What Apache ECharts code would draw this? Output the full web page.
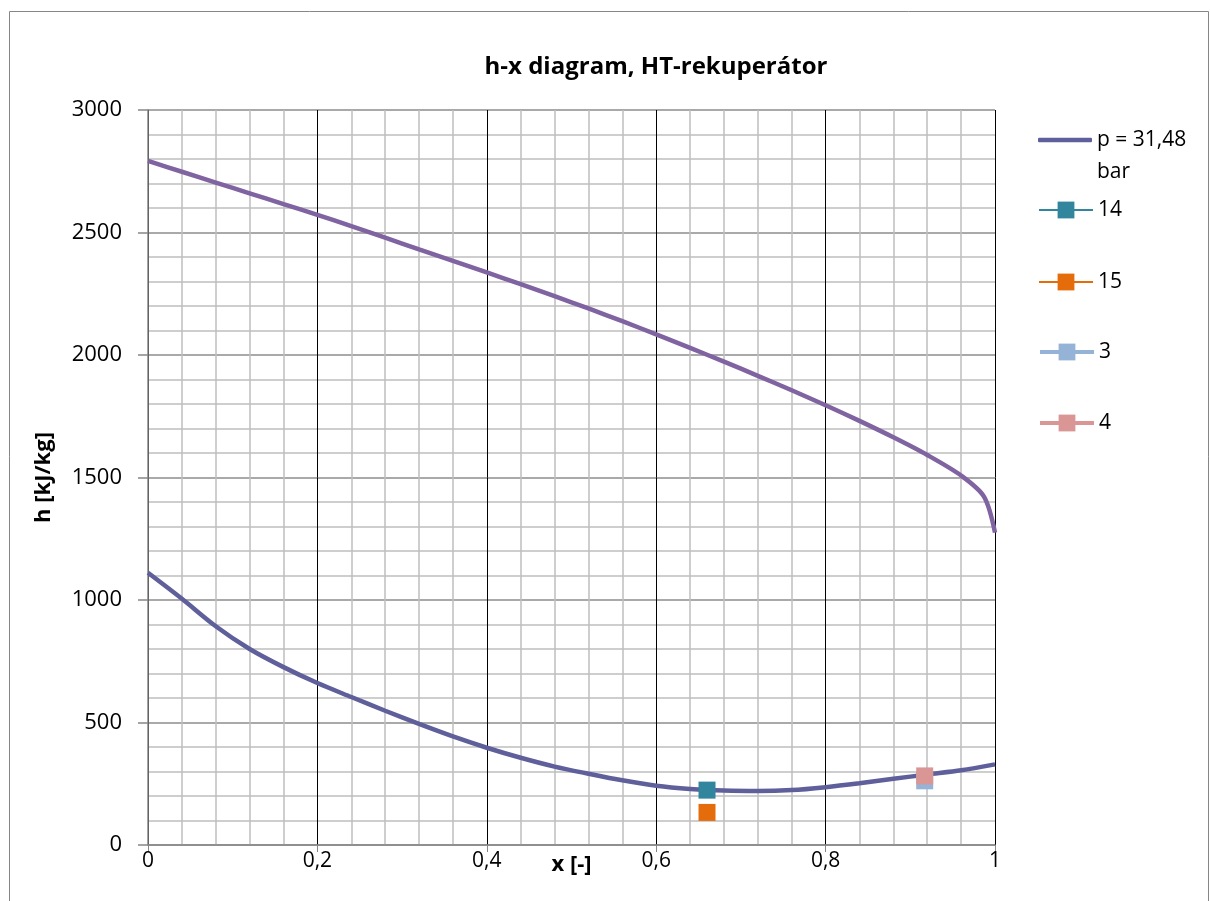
<!DOCTYPE html>
<html><head><meta charset="utf-8">
<script src="https://cdn.jsdelivr.net/npm/echarts@6/dist/echarts.min.js"></script>
<style>html,body{margin:0;padding:0;background:#fff}#c{width:1210px;height:901px}</style>
</head><body><div id="c"></div>
<script>
// ---- data ----
const titleText = 'h-x diagram, HT-rekuperátor';
const xAxisName = 'x [-]';
const yAxisName = 'h [kJ/kg]';
const curveName = 'p = 31,48 bar';
const curveLegendLines = ['p = 31,48', 'bar'];

const vaporX = [0, 0.04, 0.08, 0.12, 0.16, 0.2, 0.24, 0.28, 0.32, 0.36, 0.4, 0.44, 0.48, 0.52, 0.56, 0.6, 0.64, 0.68, 0.72, 0.76, 0.8, 0.84, 0.88, 0.92, 0.96, 0.987, 1];
const vaporH = [2792, 2748, 2704, 2660, 2616, 2572, 2526, 2479, 2431, 2384, 2337, 2289, 2240, 2190, 2138, 2084, 2029, 1973, 1915, 1856, 1795, 1731, 1664, 1592, 1508, 1422, 1275];

const liquidX = [0, 0.04, 0.08, 0.12, 0.16, 0.2, 0.24, 0.28, 0.32, 0.36, 0.4, 0.44, 0.48, 0.52, 0.56, 0.6, 0.64, 0.68, 0.72, 0.76, 0.8, 0.84, 0.88, 0.92, 0.96, 1];
const liquidH = [1111, 1005, 893, 800, 726, 661, 604, 548, 494, 443, 397, 356, 320, 291, 264, 242, 229, 222, 220, 224, 236, 252, 270, 288, 305, 329];

const pointNames = ['14', '15', '3', '4'];
const pointX = [0.660, 0.660, 0.917, 0.917];
const pointH = [224, 133, 262, 282];

// ---- styles ----
const FONT = '"Open Sans", "Liberation Sans", sans-serif';
const pointColors = ['#31859C', '#E46C0A', '#95B3D7', '#D99694'];
const pointLineW = [2, 2, 4, 4];
const legendCenters = [135, 209, 281, 351, 422];

const zip = (xs, ys) => xs.map((x, i) => [x, ys[i]]);

const series = [
  { name: curveName, type: 'line', data: zip(liquidX, liquidH), symbol: 'none', smooth: 0.3,
    lineStyle: { color: '#5F5F9B', width: 4.5 }, itemStyle: { color: '#5F5F9B' }, z: 3 },
  { name: 'vapor', type: 'line', data: zip(vaporX, vaporH), symbol: 'none', smooth: 0.3,
    lineStyle: { color: '#8064A2', width: 4.5 }, itemStyle: { color: '#8064A2' }, z: 3 }
];
pointNames.forEach((n, i) => {
  series.push({ name: n, type: 'line', data: [[pointX[i], pointH[i]]], symbol: 'rect', symbolSize: 17,
    showSymbol: true, lineStyle: { color: pointColors[i], width: pointLineW[i] },
    itemStyle: { color: pointColors[i] }, z: 4 });
});

const legends = [{
  left: 1033, top: legendCenters[0] - 48, orient: 'vertical',
  data: [{ name: curveName, icon: 'roundRect' }], itemWidth: 54, itemHeight: 4.5,
  formatter: () => '\n' + curveLegendLines.join('\n'),
  textStyle: { fontFamily: FONT, fontSize: 21, color: '#000', lineHeight: 32 }
}];
pointNames.forEach((n, i) => {
  legends.push({
    left: 1033, top: legendCenters[i + 1] - 16, orient: 'vertical',
    data: [n], itemWidth: 54, itemHeight: 21,
    lineStyle: { width: pointLineW[i] },
    textStyle: { fontFamily: FONT, fontSize: 21, color: '#000', lineHeight: 24 }
  });
});

const option = {
  animation: false,
  backgroundColor: '#fff',
  title: { text: titleText, left: 651, top: 50, textAlign: 'center',
    textStyle: { fontFamily: FONT, fontSize: 24, fontWeight: 'bold', color: '#000' } },
  legend: legends,
  grid: { left: 148, right: 215, top: 110, bottom: 56, containLabel: false },
  xAxis: {
    type: 'value', min: 0, max: 1, interval: 0.2,
    name: xAxisName, nameLocation: 'middle', nameGap: 9, nameMoveOverlap: false,
    nameTextStyle: { fontFamily: FONT, fontSize: 22, fontWeight: 'bold', color: '#000' },
    axisLine: { show: true, lineStyle: { color: '#868686', width: 1.5 } },
    axisTick: { show: true, length: 7, lineStyle: { color: '#868686' } },
    axisLabel: { margin: 6, fontFamily: FONT, fontSize: 21, color: '#000',
      formatter: v => String(+v.toFixed(2)).replace('.', ',') },
    splitLine: { show: true, lineStyle: { color: '#000', width: 1 } },
    minorTick: { show: false, splitNumber: 5 },
    minorSplitLine: { show: true, lineStyle: { color: '#BFBFBF', width: 1.5 } }
  },
  yAxis: {
    type: 'value', min: 0, max: 3000, interval: 500,
    name: yAxisName, nameLocation: 'middle', nameGap: 93, nameRotate: 90, nameMoveOverlap: false,
    nameTextStyle: { fontFamily: FONT, fontSize: 22, fontWeight: 'bold', color: '#000' },
    axisLine: { show: true, lineStyle: { color: '#868686', width: 1.5 } },
    axisTick: { show: true, length: 10, lineStyle: { color: '#868686', width: 1.5 } },
    axisLabel: { margin: 26, fontFamily: FONT, fontSize: 22, color: '#000',
      formatter: v => String(v) },
    splitLine: { show: true, lineStyle: { color: '#8C8C8C', width: 1.5 } },
    minorTick: { show: false, splitNumber: 5 },
    minorSplitLine: { show: true, lineStyle: { color: '#BFBFBF', width: 1.5 } }
  },
  graphic: [{ type: 'rect', shape: { x: 9.5, y: 11.5, width: 1199, height: 920 }, silent: true,
    style: { fill: 'none', stroke: '#868686', lineWidth: 1 }, z: -10 }],
  series: series
};

const chart = echarts.init(document.getElementById('c'), null, { renderer: 'canvas' });
chart.setOption(option);
</script>
</body></html>
